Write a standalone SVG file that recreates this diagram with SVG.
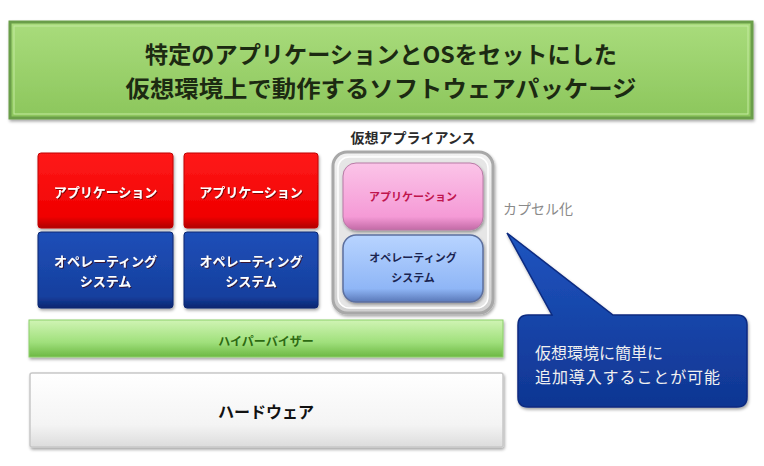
<svg xmlns="http://www.w3.org/2000/svg" width="764" height="466" viewBox="0 0 764 466">
<style>
text{font-family:"Noto Sans CJK JP","Noto Sans",sans-serif;text-anchor:middle}
.title{font-size:23px;font-weight:bold;fill:#1c2a12}
.wl{font-size:13px;font-weight:bold;fill:#ffffff}
.ap{font-size:11px;font-weight:bold;fill:#c0154e}
.os2{font-size:11px;font-weight:bold;fill:#1a2450}
.hv{font-size:12px;font-weight:bold;fill:#2d6a12}
.hw{font-size:16px;font-weight:bold;fill:#111}
.lbl{font-size:14px;font-weight:bold;fill:#2a2a2a}
.cap{font-size:14px;fill:#8a8a8a;text-anchor:start}
.co{font-size:16px;fill:#f0f0f0;text-anchor:start}
</style>
<defs>
<linearGradient id="gTitle" x1="0" y1="0" x2="0" y2="1"><stop offset="0" stop-color="#a9dc7c"/><stop offset="1" stop-color="#8cc65c"/></linearGradient>
<linearGradient id="gRed" x1="0" y1="0" x2="0" y2="1"><stop offset="0" stop-color="#ff1a1a"/><stop offset="0.85" stop-color="#f00000"/><stop offset="1" stop-color="#b00000"/></linearGradient>
<linearGradient id="gBlue" x1="0" y1="0" x2="0" y2="1"><stop offset="0" stop-color="#1e4fb8"/><stop offset="0.85" stop-color="#163f9e"/><stop offset="1" stop-color="#0a2670"/></linearGradient>
<linearGradient id="gPink" x1="0" y1="0" x2="0" y2="1"><stop offset="0" stop-color="#fbc4e8"/><stop offset="0.8" stop-color="#f59ad6"/><stop offset="1" stop-color="#c26aa6"/></linearGradient>
<linearGradient id="gLBlue" x1="0" y1="0" x2="0" y2="1"><stop offset="0" stop-color="#b8d4ff"/><stop offset="0.8" stop-color="#8fb6f6"/><stop offset="1" stop-color="#5a78b8"/></linearGradient>
<linearGradient id="gGray" x1="0" y1="0" x2="0" y2="1"><stop offset="0" stop-color="#f2f2f2"/><stop offset="1" stop-color="#d0d0d0"/></linearGradient>
<linearGradient id="gHv" x1="0" y1="0" x2="0" y2="1"><stop offset="0" stop-color="#d0f4b4"/><stop offset="0.6" stop-color="#a0e07c"/><stop offset="1" stop-color="#6cb844"/></linearGradient>
<linearGradient id="gHw" x1="0" y1="0" x2="0" y2="1"><stop offset="0" stop-color="#ffffff"/><stop offset="0.7" stop-color="#f4f4f4"/><stop offset="1" stop-color="#dcdcdc"/></linearGradient>
<linearGradient id="gCo" x1="0" y1="0" x2="0" y2="1"><stop offset="0" stop-color="#1f55c0"/><stop offset="1" stop-color="#0f3592"/></linearGradient>
<filter id="sh" x="-10%" y="-10%" width="120%" height="130%"><feDropShadow dx="1" dy="2" stdDeviation="1.5" flood-color="#000" flood-opacity="0.35"/></filter>
<filter id="tsh" x="-10%" y="-20%" width="120%" height="150%"><feDropShadow dx="1" dy="1" stdDeviation="0.6" flood-color="#400" flood-opacity="0.7"/></filter>
</defs>

<g id="title">
<rect x="10" y="22" width="742" height="96" fill="url(#gTitle)" stroke="#6b9e48" stroke-width="3" filter="url(#sh)"/>
<rect x="14" y="26" width="734" height="88" fill="none" stroke="#c4eaa0" stroke-width="1"/>
<text class="title" x="381" y="63" textLength="472" lengthAdjust="spacingAndGlyphs">特定のアプリケーションとOSをセットにした</text>
<text class="title" x="381" y="97" textLength="511" lengthAdjust="spacingAndGlyphs">仮想環境上で動作するソフトウェアパッケージ</text>
</g>

<g id="app1">
<rect x="38" y="153" width="135" height="75" rx="3" fill="url(#gRed)" stroke="#c00000" stroke-width="1" filter="url(#sh)"/>
<text class="wl" x="105.5" y="197" filter="url(#tsh)">アプリケーション</text>
</g>
<g id="os1">
<rect x="38" y="232" width="135" height="76" rx="3" fill="url(#gBlue)" stroke="#0a2670" stroke-width="1" filter="url(#sh)"/>
<text class="wl" x="105.5" y="266" filter="url(#tsh)">オペレーティング</text>
<text class="wl" x="105.5" y="286" filter="url(#tsh)">システム</text>
</g>
<g id="app2">
<rect x="184" y="153" width="134" height="75" rx="3" fill="url(#gRed)" stroke="#c00000" stroke-width="1" filter="url(#sh)"/>
<text class="wl" x="251" y="197" filter="url(#tsh)">アプリケーション</text>
</g>
<g id="os2">
<rect x="184" y="232" width="134" height="76" rx="3" fill="url(#gBlue)" stroke="#0a2670" stroke-width="1" filter="url(#sh)"/>
<text class="wl" x="251" y="266" filter="url(#tsh)">オペレーティング</text>
<text class="wl" x="251" y="286" filter="url(#tsh)">システム</text>
</g>

<g id="appliance">
<text class="lbl" x="413" y="143">仮想アプライアンス</text>
<rect x="333" y="152" width="160" height="161" rx="14" fill="url(#gGray)" stroke="#a8a8a8" stroke-width="3" filter="url(#sh)"/>
<rect x="338" y="157" width="150" height="151" rx="11" fill="#e6e6e6" stroke="#ffffff" stroke-width="1.5"/>
<g id="app3">
<rect x="343" y="163" width="140" height="67" rx="13" fill="url(#gPink)" stroke="#b87aa6" stroke-width="1" filter="url(#sh)"/>
<text class="ap" x="413" y="201">アプリケーション</text>
</g>
<g id="os3">
<rect x="343" y="235" width="140" height="67" rx="13" fill="url(#gLBlue)" stroke="#5c6f9e" stroke-width="1.5" filter="url(#sh)"/>
<text class="os2" x="413" y="262">オペレーティング</text>
<text class="os2" x="413" y="282">システム</text>
</g>
</g>

<g id="capsule">
<text class="cap" x="503" y="214">カプセル化</text>
</g>

<g id="hypervisor">
<rect x="29" y="320" width="474" height="37" fill="url(#gHv)" stroke="#8ccf6a" stroke-width="1" filter="url(#sh)"/>
<text class="hv" x="266" y="346">ハイパーバイザー</text>
</g>

<g id="hardware">
<rect x="30" y="373" width="473" height="74" rx="2" fill="url(#gHw)" stroke="#c8c8c8" stroke-width="1.5" filter="url(#sh)"/>
<text class="hw" x="266" y="418">ハードウェア</text>
</g>

<g id="connectors">
<g id="callout">
<path d="M528,315 L552,315 L507,233 L613,315 L737,315 Q747,315 747,325 L747,397 Q747,407 737,407 L528,407 Q518,407 518,397 L518,325 Q518,315 528,315 Z" fill="url(#gCo)" stroke="#0a2a80" stroke-width="1.5" filter="url(#sh)"/>
<text class="co" x="535" y="359">仮想環境に簡単に</text>
<text class="co" x="535" y="383" textLength="185" lengthAdjust="spacing">追加導入することが可能</text>
</g>
</g>
</svg>
